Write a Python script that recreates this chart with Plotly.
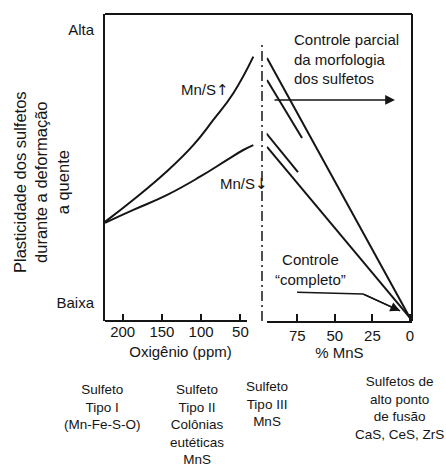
import plotly.graph_objects as go

# ---- data ----
oxygen_ppm_high = [222.5, 186.4, 143.9, 110.0, 84.5, 59.0, 33.5]
plast_mns_high = [32.3, 39.5, 48.7, 57.3, 65.5, 74.2, 86.1]
oxygen_ppm_low = [222.5, 186.4, 143.9, 101.4, 67.4, 46.3, 33.5]
plast_mns_low = [32.0, 36.2, 41.0, 47.0, 52.4, 55.7, 57.3]

mns_long_a = [95.1, 0.0]
plast_long_a = [85.7, 1.0]
mns_short_a = [95.1, 71.8]
plast_short_a = [78.5, 59.6]
mns_short_b = [95.7, 74.5]
plast_short_b = [61.2, 48.5]
mns_long_b = [95.1, 0.0]
plast_long_b = [56.7, 1.0]

oxy_ticks = [200, 150, 100, 50]
mns_ticks = [75, 50, 25, 0]
y_tickvals = [94.8, 5.9]
y_ticktext = ["Alta", "Baixa"]

arrow_parcial_mns = [91.1, 10.0]
arrow_parcial_y = [72.0, 72.0]
completo_mns = [75.1, 31.2, 6.6]
completo_y = [9.4, 8.8, 3.3]

sulfide_labels = [
    "Sulfeto<br>Tipo I<br>(Mn-Fe-S-O)",
    "Sulfeto<br>Tipo II<br>Colônias<br>eutéticas<br>MnS",
    "Sulfeto<br>Tipo III<br>MnS",
    "Sulfetos de<br>alto ponto<br>de fusão<br>CaS, CeS, ZrS",
]

FONT = "Liberation Sans, Arial, Helvetica, sans-serif"
INK = "#151515"
ARROW_SPAN = '<span style="font-family:DejaVu Sans">{}</span>'

fig = go.Figure()

line_style = dict(color=INK, width=2)
fig.add_trace(go.Scatter(x=oxygen_ppm_high, y=plast_mns_high, mode="lines",
                         line=dict(shape="spline", smoothing=1.3, **line_style),
                         xaxis="x", yaxis="y"))
fig.add_trace(go.Scatter(x=oxygen_ppm_low, y=plast_mns_low, mode="lines",
                         line=dict(shape="spline", smoothing=1.3, **line_style),
                         xaxis="x", yaxis="y"))
for xs, ys in [(mns_long_a, plast_long_a), (mns_short_a, plast_short_a),
               (mns_short_b, plast_short_b), (mns_long_b, plast_long_b)]:
    fig.add_trace(go.Scatter(x=xs, y=ys, mode="lines", line=line_style,
                             xaxis="x2", yaxis="y"))

# "completo" leader line
fig.add_trace(go.Scatter(x=completo_mns, y=completo_y, mode="lines",
                         line=dict(color=INK, width=1.5), xaxis="x2", yaxis="y"))

left_dom_end = (256 - 105) / 307
right_dom_start = (266.7 - 105) / 307

fig.update_layout(
    width=446, height=466,
    margin=dict(l=105, r=34, t=14, b=145),
    paper_bgcolor="white", plot_bgcolor="white",
    showlegend=False,
    font=dict(family=FONT, size=15, color=INK),
    xaxis=dict(domain=[0, left_dom_end], range=[222.5, 30.1],
               tickvals=oxy_ticks, ticks="inside", ticklen=7, tickwidth=1.5,
               tickcolor=INK, showgrid=False, zeroline=False, showline=False,
               tickfont=dict(size=15),
               title=dict(text="Oxigênio (ppm)", font=dict(size=15), standoff=7),
               anchor="y"),
    xaxis2=dict(domain=[right_dom_start, 1], range=[95.3, -1.33],
                tickvals=mns_ticks, ticks="inside", ticklen=7, tickwidth=1.5,
                tickcolor=INK, showgrid=False, zeroline=False, showline=True,
                linecolor=INK, linewidth=2,
                tickfont=dict(size=15),
                title=dict(text="% MnS", font=dict(size=15), standoff=4),
                anchor="y"),
    yaxis=dict(domain=[0, 1], range=[0, 100], tickvals=y_tickvals,
               ticktext=y_ticktext, ticks="", showgrid=False, zeroline=False,
               showline=True, linecolor=INK, linewidth=2,
               tickfont=dict(size=15), ticklabelstandoff=6),
)

# box edges and dashed divider
box = dict(color=INK, width=2)
fig.add_shape(type="line", xref="paper", yref="paper", x0=0, x1=1, y0=1, y1=1, line=box)
fig.add_shape(type="line", xref="paper", yref="paper", x0=1, x1=1, y0=0, y1=1, line=box)
fig.add_shape(type="line", xref="paper", yref="paper", x0=0, x1=(247 - 105) / 307,
              y0=0, y1=0, line=box)
fig.add_shape(type="line", xref="paper", yref="paper", x0=(262 - 105) / 307,
              x1=(262 - 105) / 307, y0=0, y1=(321 - 43) / 307,
              line=dict(color=INK, width=1.5, dash="10px,4px,2px,4px"))


def P(px, py):
    return (px - 105) / 307, (321 - py) / 307


ann = []
x, y = P(41, 182)
ann.append(dict(text="Plasticidade dos sulfetos<br>durante a deformação<br>a quente",
                xref="paper", yref="paper", x=x, y=y, xanchor="center", yanchor="middle",
                textangle=-90, showarrow=False, font=dict(size=16.5)))
x, y = P(205, 90)
ann.append(dict(text="Mn/S" + ARROW_SPAN.format("↑"), xref="paper", yref="paper", x=x, y=y,
                xanchor="center", yanchor="middle", showarrow=False))
x, y = P(244, 184)
ann.append(dict(text="Mn/S" + ARROW_SPAN.format("↓"), xref="paper", yref="paper", x=x, y=y,
                xanchor="center", yanchor="middle", showarrow=False))
x, y = P(292, 59)
ann.append(dict(text="Controle parcial<br>da morfologia<br>dos sulfetos",
                xref="paper", yref="paper", x=x, y=y, xanchor="left", yanchor="middle",
                align="left", showarrow=False))
x, y = P(310, 269.5)
ann.append(dict(text="Controle<br>“completo”", xref="paper", yref="paper", x=x, y=y,
                xanchor="center", yanchor="middle", showarrow=False))
# arrows
ann.append(dict(x=arrow_parcial_mns[1], y=arrow_parcial_y[1], xref="x2", yref="y",
                ax=arrow_parcial_mns[0], ay=arrow_parcial_y[0], axref="x2", ayref="y",
                showarrow=True, arrowhead=2, arrowsize=1.3, arrowwidth=1.5,
                arrowcolor=INK, text=""))
ann.append(dict(x=completo_mns[2], y=completo_y[2], xref="x2", yref="y",
                ax=completo_mns[1], ay=completo_y[1], axref="x2", ayref="y",
                showarrow=True, arrowhead=2, arrowsize=1.3, arrowwidth=1.5,
                arrowcolor=INK, text=""))
# bottom sulfide type labels
label_pos = [(102, 380), (197, 380), (267, 377), (399, 372)]
for txt, (px, py) in zip(sulfide_labels, label_pos):
    x, y = P(px, py)
    ann.append(dict(text=txt, xref="paper", yref="paper", x=x, y=y,
                    yanchor="top", xanchor="center",
                    align="center", showarrow=False, font=dict(size=13.5)))

fig.update_layout(annotations=ann)
fig.write_html("out.html", config={"displayModeBar": False},
               post_script="document.body.style.margin='0';")
